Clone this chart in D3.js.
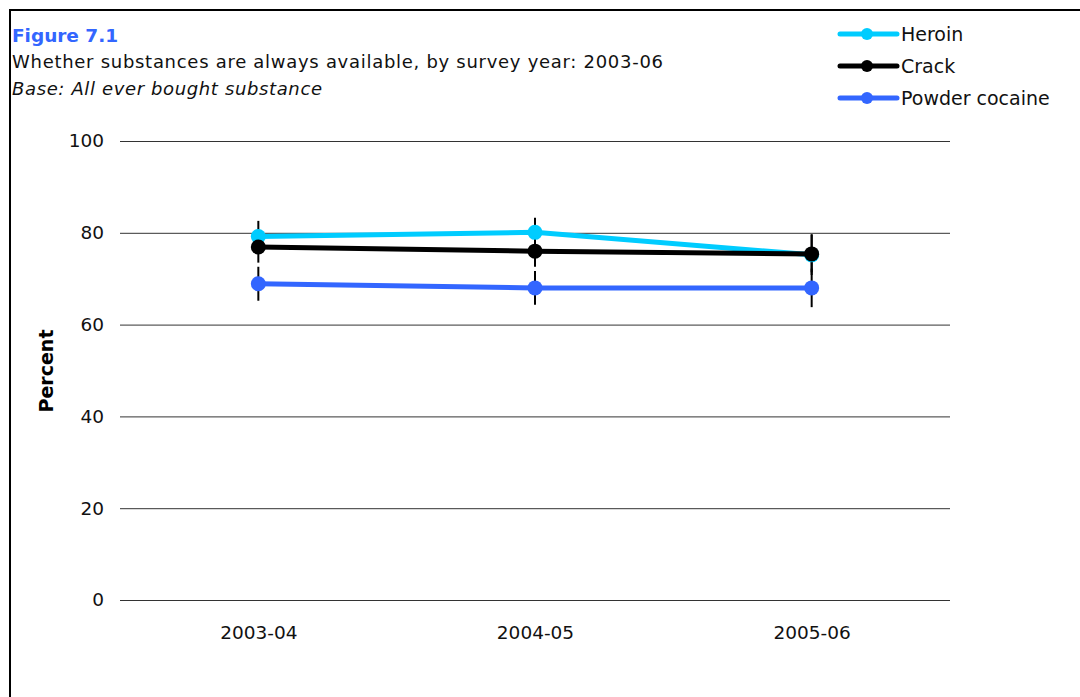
<!DOCTYPE html>
<html><head><meta charset="utf-8">
<script src="https://cdn.jsdelivr.net/npm/d3@7"></script>
<style>body{margin:0;background:#fff}svg{display:block}text{font-family:"DejaVu Sans",Verdana,sans-serif}</style>
</head><body>
<svg id="c" width="1080" height="697"></svg>
<script>
const categories = ["2003-04", "2004-05", "2005-06"];
const seriesNames = ["Heroin", "Crack", "Powder cocaine"];
const heroin = [79.2, 80.1, 75.2];
const crack = [76.9, 76.0, 75.4];
const powder = [68.9, 68.0, 68.0];
const heroinLow = [75.6, 76.6, 70.8];
const heroinHigh = [82.6, 83.3, 79.6];
const crackLow = [73.5, 72.6, 71.4];
const crackHigh = [80.3, 79.4, 79.7];
const powderLow = [65.2, 64.3, 63.8];
const powderHigh = [72.6, 71.7, 72.2];
const yTicks = [0, 20, 40, 60, 80, 100];
const colors = ["#00ccff", "#000000", "#3366ff"];

const svg = d3.select("#c");
const x = d3.scalePoint().domain(categories).range([120, 950]).padding(0.5);
const y = d3.scaleLinear().domain([0, 100]).range([600, 141]);

// frame
svg.append("path").attr("d", "M10,697V10H1080").attr("fill", "none").attr("stroke", "#000").attr("stroke-width", 2);

// titles
svg.append("text").attr("x", 12).attr("y", 42).attr("fill", "#3366ff").attr("font-weight", "bold").attr("font-size", 18.5).attr("textLength", 106).text("Figure 7.1");
svg.append("text").attr("x", 12).attr("y", 68).attr("font-size", 18).attr("textLength", 651).attr("fill", "#111").text("Whether substances are always available, by survey year: 2003-06");
svg.append("text").attr("x", 12).attr("y", 95).attr("font-size", 18).attr("font-style", "italic").attr("textLength", 310).attr("fill", "#111").text("Base: All ever bought substance");

// grid + y axis
const yAxis = d3.axisLeft(y).tickValues(yTicks).tickSize(-830).tickPadding(16);
const gy = svg.append("g").attr("transform", "translate(120,0)").call(yAxis);
gy.select(".domain").remove();
gy.selectAll(".tick line").attr("stroke", "#333").attr("stroke-width", 1);
gy.selectAll(".tick text").attr("font-size", 18.5).attr("fill", "#111").attr("font-family", "DejaVu Sans, sans-serif");

// x axis
const xAxis = d3.axisBottom(x).tickSize(0).tickPadding(26);
const gx = svg.append("g").attr("transform", "translate(0,600)").call(xAxis);
gx.select(".domain").remove();
gx.selectAll(".tick text").attr("font-size", 18.5).attr("fill", "#111").attr("font-family", "DejaVu Sans, sans-serif");

svg.append("text").attr("transform", "translate(53,371) rotate(-90)").attr("text-anchor", "middle").attr("font-weight", "bold").attr("font-size", 19).text("Percent");

const data = [heroin, crack, powder];
const lows = [heroinLow, crackLow, powderLow];
const highs = [heroinHigh, crackHigh, powderHigh];

// error bars
data.forEach((s, i) => {
  svg.append("g").selectAll("line").data(categories).join("line")
    .attr("x1", d => x(d)).attr("x2", d => x(d))
    .attr("y1", (d, j) => y(lows[i][j])).attr("y2", (d, j) => y(highs[i][j]))
    .attr("stroke", "#000").attr("stroke-width", 2);
});

const line = d3.line().x((d, j) => x(categories[j])).y(d => y(d));
data.forEach((s, i) => {
  const g = svg.append("g");
  g.append("path").datum(s).attr("d", line).attr("fill", "none").attr("stroke", colors[i]).attr("stroke-width", 5);
  g.selectAll("circle").data(s).join("circle")
    .attr("cx", (d, j) => x(categories[j])).attr("cy", d => y(d)).attr("r", 7.5).attr("fill", colors[i]);
});

// legend
const lg = svg.append("g");
seriesNames.forEach((n, i) => {
  const yy = 34 + i * 32;
  lg.append("line").attr("x1", 840).attr("x2", 897).attr("y1", yy).attr("y2", yy).attr("stroke", colors[i]).attr("stroke-width", 5).attr("stroke-linecap", "round");
  lg.append("circle").attr("cx", 867).attr("cy", yy).attr("r", 6).attr("fill", colors[i]);
  lg.append("text").attr("x", 901).attr("y", yy + 7).attr("font-size", 19).attr("fill", "#111").text(n);
});
</script>
</body></html>
